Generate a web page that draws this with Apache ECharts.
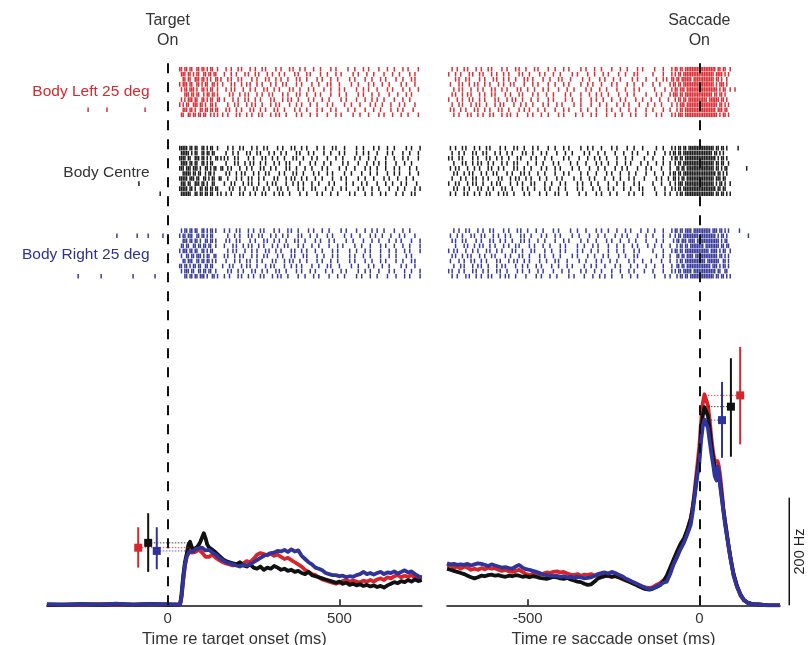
<!DOCTYPE html>
<html><head><meta charset="utf-8">
<script src="https://cdn.jsdelivr.net/npm/echarts@6/dist/echarts.min.js"></script>
<style>html,body{margin:0;padding:0;background:#fff}#chart{width:809px;height:645px}</style>
</head><body><div id="chart"></div>
<script>
// ---------------- DATA ----------------
const groupNames = ['Body Left 25 deg', 'Body Centre', 'Body Right 25 deg'];
const leftAxisName = 'Time re target onset (ms)';
const rightAxisName = 'Time re saccade onset (ms)';
const leftEventLabel = ['Target', 'On'];
const rightEventLabel = ['Saccade', 'On'];
const leftTicks = [0, 500];
const rightTicks = [-500, 0];
const scaleBarLabel = '200 Hz';
const scaleBarHz = 200;

// Raster: each trial string = segments separated by ' ', each char (base 36) is the
// gap in 5 ms bins to the next spike, counted from the segment anchor ('_' is only a separator).
const binMs = 5;
const leftAnchors = [35, 160], leftEnds = [160, 735];
const rightAnchors = [-730, -150], rightEnds = [-150, 90];

const leftRedTrials = [
 "01212131212213 2342534263524_354637453654536",
 "11121221312121 1435242534362_526453735465463",
 "21213112122312 3242635243452_463547364536452",
 "02112131221312 0524324353426_364525746354735",
 "1212112312213 2325435243624_536453743563645",
 "3112121321212 4243253426352_453654735465536",
 "12211213122131 1534243625324_635473654346547",
 "0221311212312 3425324532643_546374563455364",
 "21121231212121 2243524352463_463537465464365",
 "1131212121322 0352434253246_354653745635546"
];
const leftBlackTrials = [
 "011112121312213 3342534263524_364525746354735",
 "11111221312121 2435242534362_536453743563645",
 "0111213112122312 1242635243452_453654735465536",
 "1111212131221 2524324353426_635473654346547",
 "0112112112312213 0325435243624_546374563455364",
 "2111121213212 2243253426352_463537465464365",
 "01111211213122131 3534243625324_354653745635546",
 "1112131121231 1425324532643_354637453654536",
 "0111121231212121 4243524352463_526453735465463",
 "11111131212121322 2352434253246_463547364536452"
];
const leftBlueTrials = [
 "1212121312212 1342534263524_635473654346547",
 "0212113121221 3435242534362_546374563455364",
 "2112121231212 2242635243452_463537465464365",
 "1121312121213 1524324353426_354653745635546",
 "0211212131221 3325435243624_354637453654536",
 "1312121122131 1243253426352_526453735465463",
 "2121131212122 2534243625324_463547364536452",
 "0121221213121 0425324532643_364525746354735",
 "1211213121213 3243524352463_536453743563645",
 "3121212112312 1352434253246_453654735465536"
];
const rightRedTrials = [
 "2342534263524_526453735465463 455_212121_11111_11111_11111_12121_3",
 "0435242534362_463547364536452 365_221211_11111_11111_11111_21112_2",
 "4242635243452_364525746354735 5423_12121_11112_11111_11111_1212_3",
 "1524324353426_536453743563645 346_2121211_11111_11111_11111_22112",
 "3325435243624_453654735465536 464_212112_11111_11111_11111_11221_3",
 "2243253426352_635473654346547 5352_11212_11111_11111_11111_2121_2",
 "0534243625324_546374563455364 2554_21212_11111_11111_21111_1212_3",
 "2425324532643_463537465464365 4463_2112_11111_11111_11111_11212_2",
 "1243524352463_354653745635546 3644_21211_11111_11111_11111_21121_3",
 "3352434253246_354637453654536 536_2211211_11111_11111_11111_1221_2"
];
const rightBlackTrials = [
 "1342534263524_536453743563645 545_221212_11111_11111_1111_21212_3",
 "2435242534362_453654735465536 4632_12121_11111_11111_11111_2122",
 "0242635243452_635473654346547 365_212121_11111_11111_11111_12212",
 "3524324353426_546374563455364 5443_21211_11111_11111_11111_2121_3",
 "1325435243624_463537465464365 2654_12121_11111_11111_1111_21221",
 "3243253426352_354653745635546 454_2121211_11111_11111_11111_1212_2",
 "2534243625324_354637453654536 5343_12212_11111_11111_11111_21121",
 "0425324532643_526453735465463 3553_21121_11111_11111_11111_2212_3",
 "3243524352463_463547364536452 464_221211_11111_11111_11111_12121",
 "1352434253246_364525746354735 5534_2121_11111_11111_11111_21212_2"
];
const rightBlueTrials = [
 "3342534263524_546374563455364 455_212121_11211_11111_11211_2122",
 "1435242534362_463537465464365 3643_21211_11111_12111_11111_2212",
 "2242635243452_354653745635546 546_212112_11121_11111_11111_1221_3",
 "4524324353426_354637453654536 4454_21212_11111_11211_11111_2121",
 "0325435243624_526453735465463 365_2121211_11111_11111_12111_2213",
 "2243253426352_463547364536452 5444_12121_11211_11111_11111_2122",
 "1534243625324_364525746354735 2654_21211_11111_11112_11111_1312",
 "3425324532643_536453743563645 4553_12121_11111_11111_11211_2212",
 "0243524352463_453654735465536 365_221211_11211_11111_11111_2131",
 "2352434253246_635473654346547 4634_21212_11111_11111_11121_2122"
];
// isolated spikes outside the main raster window: [group, trial, ms]
const leftStrays = [[0,8,-232],[0,8,-177],[0,8,-66],[1,7,-84],[1,9,-22],
  [2,1,-148],[2,1,-89],[2,1,-57],[2,1,-14],[2,9,-261],[2,9,-194],[2,9,-101],[2,9,-37]];
const rightStrays = [[0,4,104],[1,0,113],[1,4,138],[2,0,117],[2,1,143]];

// Firing rates (Hz)
const leftTimes = [-352,-300,-250,-200,-150,-100,-50,0,30,36,
 40,45,50,55,60,65,70,75,80,85,90,95,100,105,110,115,120,
 130,140,150,160,170,180,190,200,210,220,230,240,250,260,270,280,290,300,
 310,320,330,340,350,360,370,380,390,400,410,420,430,440,450,460,470,480,490,500,
 510,520,530,540,550,560,570,580,590,600,610,620,630,640,650,660,670,680,690,700,
 710,720,730,740];
const leftRed = [0,1,1,2,1,1,2,1,1,2,
 15,45,72,90,100,104,98,96,99,101,103,100,98,95,90,87,90,
 94,88,84,80,78,76,74,76,74,78,82,80,86,94,97,95,93,96,
 92,94,90,86,88,84,80,76,72,66,62,58,56,52,48,46,44,42,40,42,
 45,47,44,46,44,42,46,44,47,44,48,50,47,52,50,54,56,52,55,53,
 56,52,50,52];
const leftBlack = [1,1,2,1,2,1,2,1,1,2,
 20,55,80,95,112,118,108,104,103,108,112,118,126,134,125,113,108,
 103,98,92,86,82,80,78,76,80,74,72,76,70,68,72,66,70,68,
 73,70,66,68,64,66,62,64,60,58,62,56,54,52,50,48,46,44,42,44,
 40,42,38,40,37,39,36,38,35,37,34,36,33,37,40,43,41,45,43,47,
 44,48,45,47];
const leftBlue = [2,1,2,1,3,1,2,2,1,2,
 15,48,75,90,96,100,98,100,104,102,106,104,107,104,102,100,103,
 98,94,88,84,80,78,76,74,72,75,74,76,80,84,88,92,94,97,
 98,101,100,103,99,104,100,102,92,86,80,76,70,68,65,60,58,56,56,54,
 55,52,54,53,56,58,62,58,60,57,60,62,58,61,60,63,59,62,65,61,
 63,58,54,52];

const rightTimes = [-735,-725,-715,-705,-695,-685,-675,-665,-655,-645,
 -635,-625,-615,-605,-595,-585,-575,-565,-555,-545,
 -535,-525,-515,-505,-495,-485,-475,-465,-455,-445,
 -435,-425,-415,-405,-395,-385,-375,-365,-355,-345,
 -335,-325,-315,-305,-295,-285,-275,-265,-255,-245,
 -235,-225,-215,-205,-195,-185,-175,-165,-155,-145,
 -135,-125,-115,-105,-95,
 -85,-75,-65,-55,-45,-35,-25,-20,-15,-10,-5,0,5,10,15,18,20,25,30,35,40,45,
 50,53,57,60,65,70,75,80,85,90,95,100,110,120,130,140,150,160,180,200,235];
const rightRed = [72,74,70,72,68,72,70,66,68,66,
 69,67,70,68,69,66,64,66,63,62,
 64,66,62,58,56,58,60,58,59,61,
 60,62,63,61,62,59,57,56,58,55,
 57,56,58,55,57,54,56,54,53,55,
 52,49,46,44,42,39,36,34,33,32,
 34,38,41,46,52,
 64,78,90,106,120,140,162,180,205,235,265,295,340,375,392,395,390,372,345,312,285,268,
 265,268,258,245,215,180,155,135,110,90,72,55,34,18,9,5,3,2,1,0,0];
const rightBlack = [68,66,64,62,60,58,55,52,50,52,
 55,54,56,57,55,56,54,53,55,54,
 56,55,53,54,52,54,53,51,50,49,
 51,53,52,50,49,51,48,46,44,43,
 40,38,39,44,50,52,54,55,53,54,
 52,50,47,44,41,38,35,32,30,29,
 31,34,37,44,55,
 70,85,100,114,124,140,160,178,200,225,250,276,320,352,368,370,366,352,328,298,275,258,
 250,252,244,230,205,178,155,132,112,92,74,58,36,20,10,5,3,2,1,0,0];
const rightBlue = [78,76,77,75,76,75,77,74,76,78,
 77,75,73,76,74,72,70,71,69,68,
 72,75,70,67,66,64,62,60,57,56,
 55,54,55,53,54,52,53,51,53,52,
 50,51,52,55,58,60,61,59,62,60,
 57,54,50,47,44,41,38,35,32,30,
 32,35,38,42,44,
 58,76,90,104,116,132,150,170,195,220,245,264,305,332,345,347,344,330,305,282,262,240,
 232,258,250,225,200,175,150,130,110,90,72,55,34,20,10,5,3,2,1,0,0];

// Latency / peak markers (order: left, centre, right body position)
const leftMarkT = [-86, -57, -32];
const leftMarkHz = [107, 116, 101];
const leftMarkLo = [70, 62, 67];
const leftMarkHi = [145, 171, 145];
const leftMarkLineTo = 60;
const rightMarkT = [119, 92, 66];
const rightMarkHz = [390, 369, 344];
const rightMarkLo = [299, 276, 274];
const rightMarkHi = [480, 459, 415];
const rightMarkLineTo = 25;
const scaleBarT = 262;

// ---------------- STYLE / LAYOUT ----------------
const FONT = "'Liberation Sans', Arial, Helvetica, sans-serif";
const rasterColors = ['#d7262c', '#111111', '#2f3393'];
const lineColors = ['#d6262b', '#111111', '#30349a'];
const labelColors = ['#d32a2f', '#333333', '#2d3191'];
const groupRowOffset = [0, 15.6, 31.9];
const gridTop = 62, gridH = 543.3;
const hzMax = gridH / 0.5383;
const rowPx = 5.06;
const rasterMin = -(66.7 - gridTop) / rowPx;
const rasterMax = rasterMin + gridH / rowPx;

function decodeRaster(rows, anchors, ends, g) {
  const out = [];
  rows.forEach((row, k) => {
    row.split(' ').forEach((seg, s) => {
      let pos = 0;
      for (const ch of seg) {
        if (ch === '_') continue;
        pos += parseInt(ch, 36);
        const t = anchors[s] + pos * binMs;
        if (t <= ends[s]) out.push([t, groupRowOffset[g] + k + 0.5]);
      }
    });
  });
  return out;
}
function addStrays(data, strays, g) {
  strays.filter(s => s[0] === g).forEach(s => data.push([s[2], groupRowOffset[g] + s[1] + 0.5]));
  return data;
}
function pairs(times, vals, name) {
  if (times.length !== vals.length) throw new Error(name + ' length ' + vals.length + ' vs ' + times.length);
  return times.map((t, i) => [t, vals[i]]);
}

const series = [];
const leftRasters = [leftRedTrials, leftBlackTrials, leftBlueTrials];
const rightRasters = [rightRedTrials, rightBlackTrials, rightBlueTrials];
[0, 1].forEach(p => {
  const rows = p === 0 ? leftRasters : rightRasters;
  rows.forEach((r, g) => {
    const data = p === 0 ? addStrays(decodeRaster(r, leftAnchors, leftEnds, g), leftStrays, g)
                         : addStrays(decodeRaster(r, rightAnchors, rightEnds, g), rightStrays, g);
    series.push({
      type: 'scatter', xAxisIndex: p, yAxisIndex: p * 2 + 1, data,
      symbol: 'rect', symbolSize: [1.5, 4.6], silent: true, z: 2,
      itemStyle: { color: rasterColors[g], opacity: 0.95 }
    });
  });
});
const rateSets = [
  [pairs(leftTimes, leftRed, 'leftRed'), pairs(leftTimes, leftBlack, 'leftBlack'), pairs(leftTimes, leftBlue, 'leftBlue')],
  [pairs(rightTimes, rightRed, 'rightRed'), pairs(rightTimes, rightBlack, 'rightBlack'), pairs(rightTimes, rightBlue, 'rightBlue')]
];
rateSets.forEach((sets, p) => {
  sets.forEach((d, g) => {
    const s = {
      type: 'line', xAxisIndex: p, yAxisIndex: p * 2, data: d, showSymbol: false, silent: true, z: 3 + g * 0.1,
      lineStyle: { color: lineColors[g], width: 3.8, join: 'round' }
    };
    if (g === 2) {
      s.markLine = {
        silent: true, symbol: 'none', label: { show: false },
        lineStyle: { color: '#111', width: 2, type: [10, 9] },
        data: [{ xAxis: 0 }]
      };
    }
    series.push(s);
  });
});

function markerRender(params, api) {
  const t = api.value(0), hz = api.value(1), lo = api.value(2), hi = api.value(3), to = api.value(4);
  const c = lineColors[params.dataIndex];
  const p = api.coord([t, hz]), pl = api.coord([t, lo]), ph = api.coord([t, hi]), pe = api.coord([to, hz]);
  return { type: 'group', children: [
    { type: 'line', shape: { x1: pe[0], y1: p[1], x2: p[0], y2: p[1] }, style: { stroke: c, lineWidth: 1, lineDash: [1.5, 1.5], opacity: 0.8 } },
    { type: 'line', shape: { x1: p[0], y1: pl[1], x2: p[0], y2: ph[1] }, style: { stroke: c, lineWidth: 2 } },
    { type: 'rect', shape: { x: p[0] - 4, y: p[1] - 4, width: 8, height: 8 }, style: { fill: c } }
  ]};
}
series.push({
  type: 'custom', xAxisIndex: 0, yAxisIndex: 0, z: 5, silent: true, renderItem: markerRender,
  data: leftMarkT.map((t, i) => [t, leftMarkHz[i], leftMarkLo[i], leftMarkHi[i], leftMarkLineTo])
});
series.push({
  type: 'custom', xAxisIndex: 1, yAxisIndex: 2, z: 5, silent: true, renderItem: markerRender,
  data: rightMarkT.map((t, i) => [t, rightMarkHz[i], rightMarkLo[i], rightMarkHi[i], rightMarkLineTo])
});
series.push({
  type: 'custom', xAxisIndex: 1, yAxisIndex: 2, z: 5, silent: true, clip: false,
  data: [[scaleBarT, 0, scaleBarHz]],
  renderItem: (params, api) => {
    const a = api.coord([api.value(0), api.value(1)]), b = api.coord([api.value(0), api.value(2)]);
    return { type: 'group', children: [
      { type: 'line', shape: { x1: a[0], y1: a[1], x2: b[0], y2: b[1] }, style: { stroke: '#111', lineWidth: 1.5 } },
      { type: 'text', x: a[0] + 11, y: (a[1] + b[1]) / 2, rotation: Math.PI / 2,
        style: { text: scaleBarLabel, font: '14.5px ' + FONT, fill: '#222', align: 'center', verticalAlign: 'middle', textAlign: 'center', textVerticalAlign: 'middle' } }
    ]};
  }
});

function xAxisCfg(grid, min, max, ticks, name) {
  return {
    gridIndex: grid, type: 'value', min, max, position: 'bottom',
    axisLine: { onZero: false, lineStyle: { color: '#111', width: 1.6 } },
    axisTick: { inside: true, length: 6, customValues: ticks, lineStyle: { color: '#111', width: 1.5 } },
    axisLabel: { customValues: ticks, margin: 6, color: '#333', fontSize: 15, fontFamily: FONT },
    splitLine: { show: false },
    name, nameLocation: 'middle', nameGap: 17,
    nameTextStyle: { color: '#333', fontSize: 16.5, fontFamily: FONT }
  };
}
function txt(text, x, y, color, size, align) {
  return { type: 'text', x, y, silent: true,
    style: { text, fill: color, font: size + 'px ' + FONT, align: align, verticalAlign: 'middle', textAlign: align, textVerticalAlign: 'middle' } };
}
const graphics = [
  txt(leftEventLabel[0], 167.7, 21, '#333', 16, 'center'),
  txt(leftEventLabel[1], 167.7, 41, '#333', 16, 'center'),
  txt(rightEventLabel[0], 699.3, 21, '#333', 16, 'center'),
  txt(rightEventLabel[1], 699.3, 41, '#333', 16, 'center'),
  txt(groupNames[0], 149.5, 92, labelColors[0], 15.5, 'right'),
  txt(groupNames[1], 149.5, 173, labelColors[1], 15.5, 'right'),
  txt(groupNames[2], 149.5, 255, labelColors[2], 15.5, 'right')
];

const option = {
  animation: false,
  backgroundColor: '#fff',
  grid: [
    { left: 46.9, top: gridTop, width: 374.9, height: gridH, outerBoundsMode: 'none', containLabel: false },
    { left: 447.0, top: gridTop, width: 333.0, height: gridH, outerBoundsMode: 'none', containLabel: false }
  ],
  xAxis: [
    xAxisCfg(0, -352, 740, leftTicks, leftAxisName),
    xAxisCfg(1, -735, 235, rightTicks, rightAxisName)
  ],
  yAxis: [
    { gridIndex: 0, type: 'value', min: 0, max: hzMax, show: false },
    { gridIndex: 0, type: 'value', min: rasterMin, max: rasterMax, inverse: true, show: false },
    { gridIndex: 1, type: 'value', min: 0, max: hzMax, show: false },
    { gridIndex: 1, type: 'value', min: rasterMin, max: rasterMax, inverse: true, show: false }
  ],
  graphic: graphics,
  series
};
const chart = echarts.init(document.getElementById('chart'), null, { renderer: 'canvas' });
chart.setOption(option);
</script></body></html>
